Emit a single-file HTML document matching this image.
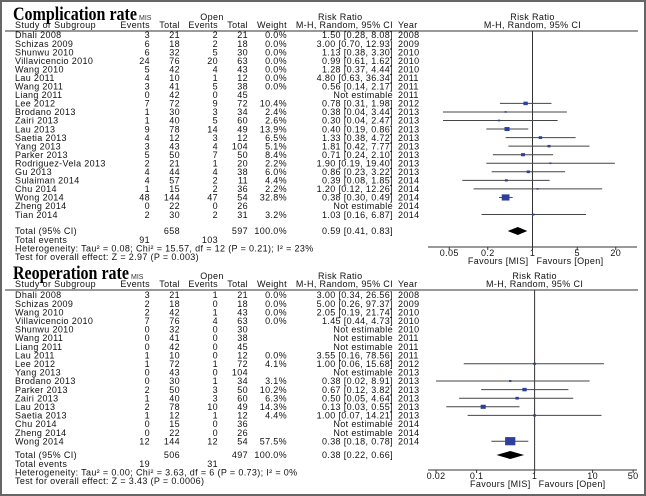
<!DOCTYPE html>
<html><head><meta charset="utf-8"><style>
html,body{margin:0;padding:0;background:#fff;}
#wrap{width:646px;height:496px;position:relative;overflow:hidden;}
svg text{font-family:"Liberation Sans",sans-serif;font-size:9px;letter-spacing:0.35px;fill:#111;}
svg text.t{font-family:"Liberation Serif",serif;font-size:19px;letter-spacing:0;font-weight:bold;fill:#000;}
svg text.s{font-size:7px;letter-spacing:0;fill:#333;}
</style></head><body>
<div id="wrap">
<svg id="svg" width="646" height="496" viewBox="0 0 646 496" xmlns="http://www.w3.org/2000/svg">
<rect x="1" y="1" width="644" height="494" fill="#fff" stroke="#666" stroke-width="2"/>
</svg>
</div>
<script>
// ---- Complication rate data ----
const compStudies = ["Dhali 2008","Schizas 2009","Shunwu 2010","Villavicencio 2010","Wang 2010","Lau 2011","Wang 2011","Liang 2011","Lee 2012","Brodano 2013","Zairi 2013","Lau 2013","Saetia 2013","Yang 2013","Parker 2013","Rodriguez-Vela 2013","Gu 2013","Sulaiman 2014","Chu 2014","Wong 2014","Zheng 2014","Tian 2014"];
const compEvMIS = [3,6,6,24,5,4,3,0,7,1,1,9,4,3,5,2,4,4,1,48,0,2];
const compTotMIS = [21,18,32,76,42,10,41,42,72,30,40,78,12,43,50,21,44,57,15,144,22,30];
const compEvOpen = [2,2,5,20,4,1,5,0,9,3,5,14,3,4,7,1,4,2,2,47,0,2];
const compTotOpen = [21,18,30,63,43,12,38,45,72,34,60,49,12,104,50,20,38,11,36,54,26,31];
const compWeight = [0,0,0,0,0,0,0,null,10.4,2.4,2.6,13.9,6.5,5.1,8.4,2.2,6.0,4.4,2.2,32.8,null,3.2];
const compRR = [1.50,3.00,1.13,0.99,1.28,4.80,0.56,null,0.78,0.38,0.30,0.40,1.33,1.81,0.71,1.90,0.86,0.39,1.20,0.38,null,1.03];
const compLo = [0.28,0.70,0.38,0.61,0.37,0.63,0.14,null,0.31,0.04,0.04,0.19,0.38,0.42,0.24,0.19,0.23,0.08,0.12,0.30,null,0.16];
const compHi = [8.08,12.93,3.30,1.62,4.44,36.34,2.17,null,1.98,3.44,2.47,0.86,4.72,7.77,2.10,19.40,3.22,1.85,12.26,0.49,null,6.87];
const compYear = [2008,2009,2010,2010,2010,2011,2011,2011,2012,2013,2013,2013,2013,2013,2013,2013,2013,2014,2014,2014,2014,2014];
const compTotal = {mis:658, open:597, ev1:91, ev2:103, rr:0.59, lo:0.41, hi:0.83};
const compTicks = [0.05,0.2,1,5,20];
const compHet = "Heterogeneity: Tau\u00b2 = 0.08; Chi\u00b2 = 15.57, df = 12 (P = 0.21); I\u00b2 = 23%";
const compTest = "Test for overall effect: Z = 2.97 (P = 0.003)";

// ---- Reoperation rate data ----
const reopStudies = ["Dhali 2008","Schizas 2009","Wang 2010","Villavicencio 2010","Shunwu 2010","Wang 2011","Liang 2011","Lau 2011","Lee 2012","Yang 2013","Brodano 2013","Parker 2013","Zairi 2013","Lau 2013","Saetia 2013","Chu 2014","Zheng 2014","Wong 2014"];
const reopEvMIS = [3,2,2,7,0,0,0,1,1,0,0,2,1,2,1,0,0,12];
const reopTotMIS = [21,18,42,76,32,41,42,10,72,43,30,50,40,78,12,15,22,144];
const reopEvOpen = [1,0,1,4,0,0,0,0,1,0,1,3,3,10,1,0,0,12];
const reopTotOpen = [21,18,43,63,30,38,45,12,72,104,34,50,60,49,12,36,26,54];
const reopWeight = [0,0,0,0,null,null,null,0,4.1,null,3.1,10.2,6.3,14.3,4.4,null,null,57.5];
const reopRR = [3.00,5.00,2.05,1.45,null,null,null,3.55,1.00,null,0.38,0.67,0.50,0.13,1.00,null,null,0.38];
const reopLo = [0.34,0.26,0.19,0.44,null,null,null,0.16,0.06,null,0.02,0.12,0.05,0.03,0.07,null,null,0.18];
const reopHi = [26.56,97.37,21.74,4.73,null,null,null,78.56,15.68,null,8.91,3.82,4.64,0.55,14.21,null,null,0.78];
const reopYear = [2008,2009,2010,2010,2010,2011,2011,2011,2012,2013,2013,2013,2013,2013,2013,2014,2014,2014];
const reopTotal = {mis:506, open:497, ev1:19, ev2:31, rr:0.38, lo:0.22, hi:0.66};
const reopTicks = [0.02,0.1,1,10,50];
const reopHet = "Heterogeneity: Tau\u00b2 = 0.00; Chi\u00b2 = 3.63, df = 6 (P = 0.73); I\u00b2 = 0%";
const reopTest = "Test for overall effect: Z = 3.43 (P = 0.0006)";

const svg = document.getElementById('svg');
const NS = "http://www.w3.org/2000/svg";
function mk(tag, attrs, parent){
  const e = document.createElementNS(NS, tag);
  for (const k in attrs) e.setAttribute(k, attrs[k]);
  (parent||svg).appendChild(e);
  return e;
}
function txt(x,y,s,anchor,cls,parent){
  const e = mk('text',{x:x,y:y,'text-anchor':anchor||'start'},parent);
  if(cls) e.setAttribute('class',cls);
  e.textContent = s;
  return e;
}
function f2(v){return v.toFixed(2);}

function panel(o){
  const g = mk('g',{});
  
  
  const xs = v => o.x1 + Math.log10(v) * o.ppd;
  const t = txt(13, o.titleY, o.title, 'start', 't', g);
  t.setAttribute('textLength', o.titleW);
  t.setAttribute('lengthAdjust', 'spacingAndGlyphs');
  
  
  const hy = o.headY;
  const h1 = txt(o.misX, hy-8, 'MIS', 'start', 's', g);
  
  
  const h2 = txt(212, hy-8, 'Open', 'middle', null, g);
  
  
  const h3 = txt(318, hy-8, 'Risk Ratio', 'start', null, g);
  
  
  const h4 = txt(o.x1, hy-8, 'Risk Ratio', 'middle', null, g);
  
  
  const h5 = txt(o.x1, hy, 'M-H, Random, 95% CI', 'middle', null, g);
  
  
  const cols = [['Study or Subgroup',15,'start'],['Events',150,'end'],['Total',180,'end'],['Events',218,'end'],['Total',248,'end'],['Weight',287,'end'],['M-H, Random, 95% CI',393,'end'],['Year',398,'start']];
  cols.forEach(c=>{
    const e = txt(c[1], hy, c[0], c[2], null, g);
    
    
  });
  const hl = mk('line',{x1:5,y1:hy+3,x2:638,y2:hy+3,stroke:'#333','stroke-width':1},g);
  
  
  const nl = mk('line',{x1:xs(1),y1:hy+3,x2:xs(1),y2:o.axisY,stroke:'#333','stroke-width':1},g);
  
  
  o.studies.forEach((s,i)=>{
    const y = o.row0 + i*o.step;
    const yb = y + 3.2;
    const r = mk('g',{},g);
    
    
    txt(15,yb,s,'start',null,r);
    txt(150,yb,String(o.ev1[i]),'end',null,r);
    txt(180,yb,String(o.tot1[i]),'end',null,r);
    txt(218,yb,String(o.ev2[i]),'end',null,r);
    txt(248,yb,String(o.tot2[i]),'end',null,r);
    if(o.w[i]!==null) txt(287,yb,o.w[i].toFixed(1)+'%','end',null,r);
    txt(393,yb,o.rr[i]===null?'Not estimable':f2(o.rr[i])+' ['+f2(o.lo[i])+', '+f2(o.hi[i])+']','end',null,r);
    txt(398,yb,String(o.yr[i]),'start',null,r);
    if(o.w[i]){
      const ci = mk('line',{x1:xs(o.lo[i]),y1:y,x2:xs(o.hi[i]),y2:y,stroke:'#444','stroke-width':1},r);
      
      
      const sz = Math.max(2, Math.sqrt(o.w[i])*1.35);
      const sq = mk('rect',{x:xs(o.rr[i])-sz/2,y:y-sz*0.4,width:sz,height:sz*0.8,fill:'#2f3f9e'},r);
      
      
    }
  });
  const T = o.total, ty = o.totY;
  const tg = mk('g',{},g);
  
  
  txt(15,ty+3,'Total (95% CI)','start',null,tg);
  txt(180,ty+3,String(T.mis),'end',null,tg);
  txt(248,ty+3,String(T.open),'end',null,tg);
  txt(287,ty+3,'100.0%','end',null,tg);
  txt(393,ty+3,f2(T.rr)+' ['+f2(T.lo)+', '+f2(T.hi)+']','end',null,tg);
  const dm = mk('polygon',{points:[xs(T.lo)+','+ty, xs(T.rr)+','+(ty-4), xs(T.hi)+','+ty, xs(T.rr)+','+(ty+4)].join(' '),fill:'#000'},tg);
  
  
  const te = txt(15,ty+12,'Total events','start',null,g);
  
  
  txt(150,ty+12,String(T.ev1),'end',null,g);
  txt(218,ty+12,String(T.ev2),'end',null,g);
  const he = txt(15,ty+20.5,o.het,'start',null,g);
  
  
  const ts = txt(15,ty+29,o.test,'start',null,g);
  
  
  const ax = mk('line',{x1:428,y1:o.axisY,x2:637,y2:o.axisY,stroke:'#333','stroke-width':1},g);
  
  
  o.ticks.forEach(v=>{
    const tk = mk('line',{x1:xs(v),y1:o.axisY,x2:xs(v),y2:o.axisY+3,stroke:'#333'},g);
    
    
    const tl = txt(xs(v),o.axisY+9,String(v),'middle',null,g);
    
    
  });
  const fm = txt(xs(1)-4,o.axisY+17,'Favours [MIS]','end',null,g);
  
  
  const fo = txt(xs(1)+4,o.axisY+17,'Favours [Open]','start',null,g);
  
  
}

panel({name:'complication-rate-panel', title:'Complication rate', titleW:124, titleY:20, misX:139, headY:28,
  studies:compStudies, ev1:compEvMIS, tot1:compTotMIS, ev2:compEvOpen, tot2:compTotOpen, w:compWeight,
  rr:compRR, lo:compLo, hi:compHi, yr:compYear, total:compTotal, ticks:compTicks, het:compHet, test:compTest,
  row0:35, step:8.55, totY:231, axisY:247, x1:532.5, ppd:64});
panel({name:'reoperation-rate-panel', title:'Reoperation rate', titleW:116, titleY:279, misX:131, headY:287,
  studies:reopStudies, ev1:reopEvMIS, tot1:reopTotMIS, ev2:reopEvOpen, tot2:reopTotOpen, w:reopWeight,
  rr:reopRR, lo:reopLo, hi:reopHi, yr:reopYear, total:reopTotal, ticks:reopTicks, het:reopHet, test:reopTest,
  row0:295, step:8.6, totY:455, axisY:470, x1:534.6, ppd:58});
</script>
</body></html>
